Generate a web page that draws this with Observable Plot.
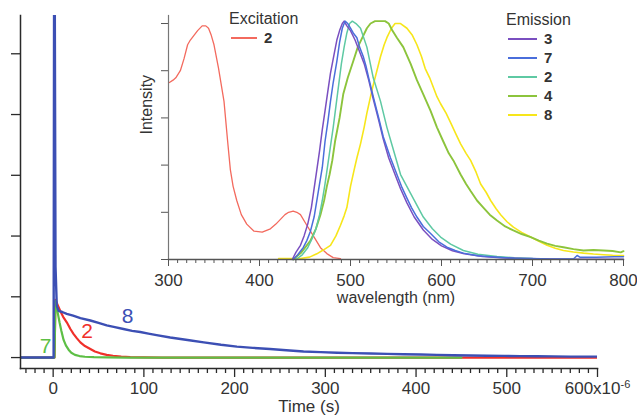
<!DOCTYPE html>
<html><head><meta charset="utf-8">
<script src="https://cdn.jsdelivr.net/npm/d3@7"></script>
<script src="https://cdn.jsdelivr.net/npm/@observablehq/plot@0.6"></script>
<style>
html,body{margin:0;padding:0;background:#fff;}
#wrap{position:relative;width:637px;height:420px;font-family:"Liberation Sans",Arial,sans-serif;overflow:hidden;}
#wrap svg{position:absolute;left:0;top:0;}
.leg{position:absolute;color:#333;font-size:16px;}
.leg .row{height:19px;line-height:19px;white-space:nowrap;position:relative;}
.leg .sw{position:absolute;top:9px;height:2px;}
.leg .num{position:absolute;font-weight:bold;font-size:15px;}
</style></head><body><div id="wrap"></div>
<script>
// ---------- Main chart: decay traces (time in microseconds, intensity in tick units)
const red2_t = [-36, 1.5, 2.5, 4, 7.7, 11, 15, 19, 22.4, 26, 30, 35, 41, 46, 52, 59, 66, 75, 85, 100, 120, 600];
const red2_v = [0, 0, 0.95, 0.9, 0.77, 0.67, 0.58, 0.47, 0.39, 0.32, 0.25, 0.19, 0.14, 0.1, 0.07, 0.045, 0.03, 0.015, 0.006, 0.002, 0, 0];

const green7_t = [-36, 1.5, 2.5, 3.5, 5, 7, 9, 11.5, 14, 17, 20, 24, 29, 35, 45, 60, 80, 450];
const green7_v = [0, 0, 0.93, 0.9, 0.74, 0.58, 0.44, 0.29, 0.2, 0.13, 0.08, 0.045, 0.025, 0.013, 0.006, 0.002, 0, 0];

const blue8_t = [-36, 0.5, 1, 1.8, 2.6, 4, 6, 10, 15, 22, 30, 41, 50, 59, 68, 77.5, 87, 96, 105, 114, 129, 150, 166, 185, 202.5, 220, 239, 257, 276, 295, 313, 330, 350, 368, 386, 405, 423, 441, 460, 478, 497, 515, 533, 551, 570, 585, 600];
const blue8_v = [0, 0, 5.8, 5.8, 1.5, 0.85, 0.77, 0.75, 0.72, 0.69, 0.65, 0.61, 0.57, 0.53, 0.5, 0.47, 0.44, 0.42, 0.395, 0.37, 0.33, 0.285, 0.25, 0.21, 0.18, 0.16, 0.14, 0.12, 0.10, 0.09, 0.08, 0.073, 0.066, 0.06, 0.055, 0.05, 0.044, 0.038, 0.033, 0.03, 0.027, 0.024, 0.022, 0.019, 0.016, 0.016, 0.016];

const mainLabels = [
  {name: "7", t: -8.3, v: 0.18, color: "#5dbf45"},
  {name: "2", t: 37.5, v: 0.43, color: "#f0302a"},
  {name: "8", t: 82, v: 0.68, color: "#3c4fb4"}
];
const timeMajorTicks = [0, 100, 200, 300, 400, 500, 600];
const timeTickLabels = ["0", "100", "200", "300", "400", "500", "600x10"];
const mainYTicks = [0, 1, 2, 3, 4, 5];

// ---------- Inset: normalised spectra (nm)
const exc2_nm = [301, 305, 308, 313, 317, 321, 324, 328, 332, 337, 341, 344, 347, 350, 355, 361, 365, 368, 371, 375, 380, 386, 394, 403, 412, 418, 423, 428, 432, 437, 441, 445, 452, 460, 467, 474, 481, 489];
const exc2_v = [0.75, 0.76, 0.77, 0.80, 0.85, 0.91, 0.93, 0.95, 0.97, 0.99, 0.99, 0.98, 0.95, 0.91, 0.81, 0.67, 0.5, 0.38, 0.31, 0.25, 0.19, 0.15, 0.12, 0.116, 0.13, 0.15, 0.17, 0.19, 0.20, 0.205, 0.2, 0.19, 0.145, 0.095, 0.05, 0.025, 0.008, 0.004];

const em3_nm = [436, 440, 445, 449, 453, 457, 460, 463, 466, 469, 472, 475, 478, 482, 485, 488, 491, 493, 496, 500, 505, 510, 515, 520, 525, 531, 536, 542, 548, 555, 562, 570, 580, 590, 600, 612, 625, 645, 665, 690, 720, 760, 800];
const em3_v = [0, 0.03, 0.06, 0.1, 0.15, 0.22, 0.3, 0.38, 0.46, 0.55, 0.63, 0.71, 0.79, 0.87, 0.93, 0.97, 1.0, 1.01, 0.99, 0.97, 0.93, 0.88, 0.83, 0.76, 0.68, 0.59, 0.51, 0.43, 0.37, 0.3, 0.24, 0.18, 0.125, 0.085, 0.058, 0.037, 0.024, 0.013, 0.007, 0.004, 0.002, 0.001, 0.001];

const em7_nm = [437, 442, 448, 452, 456, 460, 463, 466, 469, 472, 475, 478, 481, 485, 488, 491, 494, 497, 500, 503, 507, 510, 514, 517, 520, 525, 531, 536, 544, 551, 556, 562, 567, 573, 580, 588, 597, 606, 615, 624, 640, 661, 680, 698, 720, 745, 749, 752, 770, 790, 800];
const em7_v = [0, 0.02, 0.05, 0.08, 0.12, 0.18, 0.25, 0.32, 0.39, 0.5, 0.58, 0.67, 0.75, 0.84, 0.92, 0.98, 1.01, 1.0, 0.98, 0.96, 0.94, 0.9, 0.86, 0.82, 0.77, 0.69, 0.6, 0.52, 0.43, 0.36, 0.31, 0.26, 0.22, 0.18, 0.14, 0.11, 0.075, 0.052, 0.038, 0.027, 0.016, 0.01, 0.005, 0.004, 0.002, 0.002, 0.017, 0.01, 0.01, 0.012, 0.012];

const em2_nm = [440, 447, 453, 458, 462, 466, 469, 472, 475, 478, 481, 484, 487, 490, 493, 496, 499, 502, 506, 511, 518, 525, 533, 540, 546, 555, 566, 580, 590, 599, 610, 624, 640, 661, 680, 700];
const em2_v = [0, 0.02, 0.05, 0.09, 0.13, 0.19, 0.25, 0.32, 0.4, 0.48, 0.56, 0.65, 0.74, 0.83, 0.9, 0.96, 1.0, 1.01, 1.0, 0.98, 0.9, 0.77, 0.67, 0.56, 0.48, 0.36, 0.28, 0.18, 0.13, 0.095, 0.065, 0.038, 0.022, 0.013, 0.007, 0.004];

const em4_nm = [437, 446, 456, 462, 467, 471, 474, 477, 480, 483, 488, 492, 497, 503, 508, 513, 518, 522, 527, 533, 538, 542, 546, 551, 558, 566, 573, 580, 588, 595, 602, 608, 613, 621, 627, 632, 639, 646, 653, 661, 670, 679, 688, 698, 707, 716, 725, 734, 745, 756, 767, 778, 788, 797, 800];
const em4_v = [0, 0.03, 0.08, 0.13, 0.19, 0.25, 0.31, 0.36, 0.42, 0.5, 0.6, 0.7, 0.77, 0.84, 0.9, 0.94, 0.98, 1.0, 1.01, 1.01, 1.01, 1.0, 0.97, 0.94, 0.9, 0.83, 0.76, 0.7, 0.63, 0.56, 0.5, 0.45, 0.42, 0.36, 0.32, 0.29, 0.25, 0.22, 0.19, 0.165, 0.14, 0.123, 0.108, 0.095, 0.08, 0.067, 0.058, 0.052, 0.044, 0.038, 0.04, 0.038, 0.036, 0.03, 0.035];

const em8_nm = [421, 445, 455, 463, 470, 478, 484, 489, 493, 496, 500, 504, 507, 511, 515, 518, 522, 525, 529, 533, 537, 540, 545, 549, 555, 562, 568, 573, 578, 582, 587, 591, 595, 599, 605, 610, 616, 621, 627, 632, 638, 643, 649, 654, 660, 665, 672, 679, 688, 698, 707, 716, 725, 734, 745, 756, 767, 778, 788, 797, 800];
const em8_v = [0.004, 0.004, 0.01, 0.024, 0.04, 0.06, 0.1, 0.145, 0.185, 0.22, 0.31, 0.38, 0.43, 0.49, 0.56, 0.62, 0.69, 0.74, 0.8, 0.86, 0.91, 0.94, 0.98, 1.0, 1.0, 0.98, 0.95, 0.91, 0.86, 0.81, 0.77, 0.73, 0.69, 0.66, 0.62, 0.58, 0.53, 0.49, 0.45, 0.42, 0.37, 0.32, 0.285, 0.25, 0.215, 0.19, 0.16, 0.137, 0.115, 0.095, 0.077, 0.06, 0.048, 0.038, 0.032, 0.027, 0.023, 0.02, 0.018, 0.017, 0.017];

const nmMajorTicks = [300, 400, 500, 600, 700, 800];
const insetYTicks = [0, 0.2, 0.4, 0.6, 0.8, 1.0];

const excitationLegend = [{name: "2", color: "#f36a5e"}];
const emissionLegend = [
  {name: "3", color: "#7a4fc0"},
  {name: "7", color: "#4a6edb"},
  {name: "2", color: "#5ec9a3"},
  {name: "4", color: "#8cc43c"},
  {name: "8", color: "#f7e61a"}
];

const FONT = '"Liberation Sans", Arial, sans-serif';
const pts = (xs, ys) => xs.map((x, i) => ({x, y: ys[i]}));

// ---------- main plot
const main = Plot.plot({
  width: 637, height: 420,
  marginLeft: 20, marginRight: 40, marginTop: 15, marginBottom: 52,
  x: {domain: [-36, 600]},
  y: {domain: [-0.18, 5.63]},
  style: {fontFamily: FONT, fontSize: "17px", color: "#2a2a2a", background: "transparent"},
  marks: [
    Plot.lineY(pts(red2_t, red2_v), {x: "x", y: "y", stroke: "#f0302a", strokeWidth: 2.2, clip: true}),
    Plot.lineY(pts(green7_t, green7_v), {x: "x", y: "y", stroke: "#5dbf45", strokeWidth: 2.2, clip: true}),
    Plot.lineY(pts(blue8_t, blue8_v), {x: "x", y: "y", stroke: "#3c4fb4", strokeWidth: 2.4, clip: true}),
    Plot.text(mainLabels, {x: "t", y: "v", text: "name", fill: "color", fontSize: 21}),
    Plot.axisY({ticks: mainYTicks, tickSize: 9, tickFormat: () => "", label: null, strokeWidth: 1.3}),
    Plot.axisX({ticks: d3.range(-30, 600, 10).filter(d => d % 100 !== 0), tickSize: 5, tickFormat: () => "", label: null, strokeWidth: 1.3}),
    Plot.axisX({ticks: timeMajorTicks, tickSize: 9, tickPadding: 4, tickFormat: d => timeTickLabels[timeMajorTicks.indexOf(d)], label: null, strokeWidth: 1.3, fill: "#333"}),
    Plot.frame({anchor: "left", strokeWidth: 1.5}),
    Plot.frame({anchor: "bottom", strokeWidth: 1.5}),
    Plot.text(["Time (s)"], {frameAnchor: "bottom", dy: 43, fontSize: 17, fill: "#333"})
  ]
});
// superscript exponent on the last tick label
d3.select(main).selectAll("text").filter(function() { return this.textContent === "600x10"; })
  .append("tspan").attr("dy", "-0.55em").attr("font-size", "11px").text("-6");

// ---------- inset plot
const inset = Plot.plot({
  width: 637, height: 420,
  marginLeft: 168, marginRight: 14, marginTop: 15, marginBottom: 161,
  x: {domain: [300, 800]},
  y: {domain: [0, 1.034]},
  style: {fontFamily: FONT, fontSize: "17px", color: "#555", background: "transparent"},
  marks: [
    Plot.lineY(pts(exc2_nm, exc2_v), {x: "x", y: "y", stroke: excitationLegend[0].color, strokeWidth: 1.3}),
    Plot.lineY(pts(em8_nm, em8_v), {x: "x", y: "y", stroke: "#f7e61a", strokeWidth: 1.6}),
    Plot.lineY(pts(em4_nm, em4_v), {x: "x", y: "y", stroke: "#8cc43c", strokeWidth: 1.9}),
    Plot.lineY(pts(em2_nm, em2_v), {x: "x", y: "y", stroke: "#5ec9a3", strokeWidth: 1.5}),
    Plot.lineY(pts(em3_nm, em3_v), {x: "x", y: "y", stroke: "#7a4fc0", strokeWidth: 1.5}),
    Plot.lineY(pts(em7_nm, em7_v), {x: "x", y: "y", stroke: "#4a6edb", strokeWidth: 1.5}),
    Plot.axisY({ticks: insetYTicks, tickSize: 7, tickFormat: () => "", label: null}),
    Plot.axisX({ticks: d3.range(310, 800, 10).filter(d => d % 100 !== 0), tickSize: 4, tickFormat: () => "", label: null}),
    Plot.axisX({ticks: nmMajorTicks, tickSize: 7, tickPadding: 7, tickFormat: d => String(d), label: null, fill: "#333"}),
    Plot.frame({anchor: "left", stroke: "#777", strokeWidth: 1.2}),
    Plot.frame({anchor: "bottom", stroke: "#555", strokeWidth: 1.3}),
    Plot.text(["wavelength (nm)"], {frameAnchor: "bottom", dy: 43, fontSize: 16, fill: "#333"}),
    Plot.text(["Intensity"], {frameAnchor: "left", dx: -22, dy: -3, rotate: -90, fontSize: 16, fill: "#333"})
  ]
});

const wrap = document.getElementById("wrap");
wrap.appendChild(main);
wrap.appendChild(inset);

function legend(title, items, left, top, swWidth) {
  const div = document.createElement("div");
  div.className = "leg";
  div.style.left = left + "px";
  div.style.top = top + "px";
  const t = document.createElement("div");
  t.className = "row"; t.textContent = title;
  div.appendChild(t);
  for (const it of items) {
    const r = document.createElement("div");
    r.className = "row";
    const sw = document.createElement("div");
    sw.className = "sw";
    sw.style.left = "2px";
    sw.style.width = swWidth + "px";
    sw.style.background = it.color;
    const n = document.createElement("span");
    n.className = "num";
    n.style.left = (swWidth + 9) + "px";
    n.textContent = it.name;
    r.appendChild(sw); r.appendChild(n);
    div.appendChild(r);
  }
  wrap.appendChild(div);
}
legend("Excitation", excitationLegend, 229, 9, 26);
legend("Emission", emissionLegend, 506, 10, 29);
</script></body></html>
